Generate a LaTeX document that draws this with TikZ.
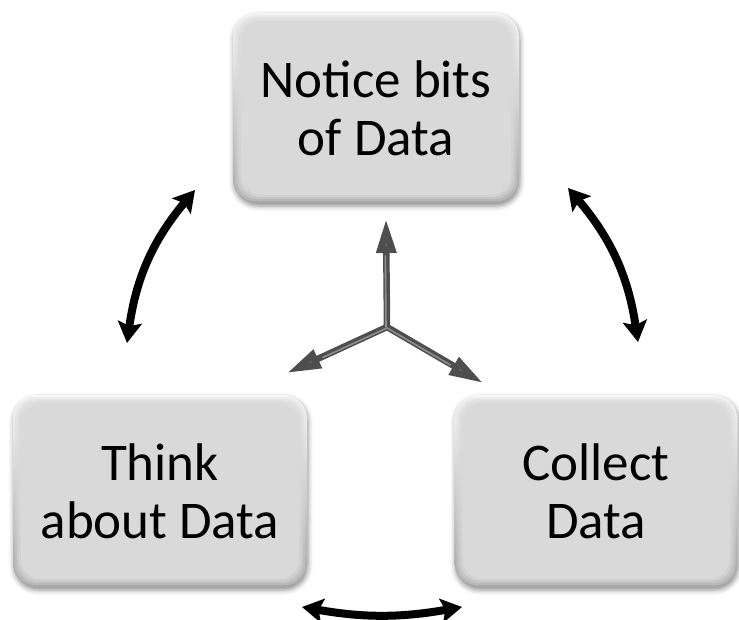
\documentclass[tikz,border=0pt]{standalone}
\usepackage{fontspec}
\setmainfont{Carlito}
\usetikzlibrary{arrows.meta,shadows.blur,calc}

\definecolor{boxface}{HTML}{D9D9D9}
\definecolor{boxhi}{HTML}{F6F6F6}
\definecolor{boxlo}{HTML}{A8A8A8}
\definecolor{axisdark}{HTML}{4E4E4E}
\definecolor{axislight}{HTML}{8E8E8E}

\tikzset{
  stagebox/.style={
    rounded corners=24pt, inner sep=0pt, align=center, text=black,
    font=\fontsize{53}{58}\selectfont,
    top color=boxhi, bottom color=boxlo,
    blur shadow={shadow xshift=1pt, shadow yshift=-3pt,
                 shadow blur radius=5pt, shadow opacity=45},
    path picture={
      \foreach \k/\o in {2/0.3,4/0.4,6/0.6,8/1}{
        \fill[boxface, rounded corners=20pt, opacity=\o]
          ([shift={(\k pt,\k pt)}]path picture bounding box.south west)
          rectangle
          ([shift={(-\k pt,-\k pt)}]path picture bounding box.north east);
      }
    }
  },
  cyclearrow/.style={
    line width=8pt, black,
    {Stealth[length=21pt,width=24pt,inset=4pt]}-{Stealth[length=21pt,width=24pt,inset=4pt]}
  },
  axisshaft/.style={line width=6.5pt, axisdark,
    -{Triangle[length=34pt,width=19pt,fill=axisdark!90!white]}},
  axisshine/.style={line width=1.6pt, axislight, line cap=round}
}

\begin{document}
\begin{tikzpicture}[x=1pt,y=-1pt]
\useasboundingbox (0,0) rectangle (739,620);

% the three stages of the cycle
\node[stagebox, minimum width=286pt, minimum height=190pt] (notice) at (376,108) {Notice bits\\of Data};
\node[stagebox, minimum width=294pt, minimum height=192pt] (think)  at (160,491) {Think\\about Data};
\node[stagebox, minimum width=283pt, minimum height=192pt] (collect) at (596,491) {Collect\\Data};

% ends of the curved double arrows between the stages
\coordinate (tl1) at (127,343);
\coordinate (tl2) at (195,190);
\coordinate (tr1) at (568,188);
\coordinate (tr2) at (638,342);
\coordinate (bt1) at (302,607);
\coordinate (bt2) at (462,607);

\draw[cyclearrow] (tl1) to[bend left=16] (tl2);
\draw[cyclearrow] (tr1) to[bend left=16] (tr2);
\draw[cyclearrow] (bt1) to[bend right=10] (bt2);

% three-way axis in the middle
\coordinate (hub) at (387,327);
\coordinate (up) at (386,219);
\coordinate (lf) at (287,373);
\coordinate (rt) at (483,383);

\draw[axisshaft] (hub) -- (up);
\draw[axisshaft] (hub) -- (lf);
\draw[axisshaft] (hub) -- (rt);

\draw[axisshine] ([xshift=-1pt]hub) -- ([xshift=-1pt]$(hub)!0.66!(up)$);
\draw[axisshine] ([yshift=-1pt]hub) -- ([yshift=-1pt]$(hub)!0.64!(lf)$);
\draw[axisshine] ([yshift=-1pt]hub) -- ([yshift=-1pt]$(hub)!0.66!(rt)$);
\end{tikzpicture}
\end{document}
